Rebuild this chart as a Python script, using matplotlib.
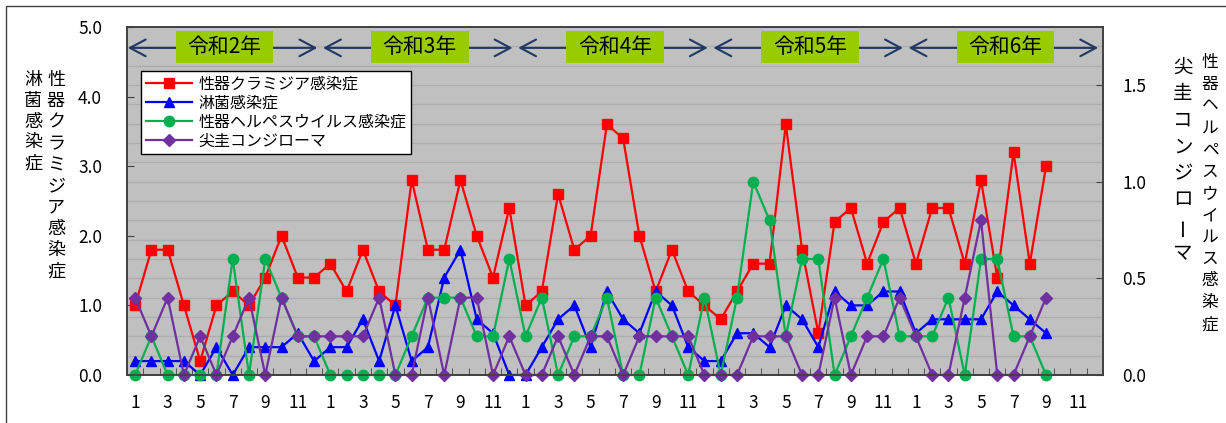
import numpy as np
import matplotlib
matplotlib.use('Agg')
import matplotlib.pyplot as plt
from matplotlib.patches import Rectangle

plt.rcParams['font.family'] = ['Noto Sans CJK JP', 'DejaVu Sans']

# monthly data, 令和2年1月 - 令和6年9月
years = ['令和2年', '令和3年', '令和4年', '令和5年', '令和6年']

chlamydia = [1.0, 1.8, 1.8, 1.0, 0.2, 1.0, 1.2, 1.0, 1.4, 2.0, 1.4, 1.4,
             1.6, 1.2, 1.8, 1.2, 1.0, 2.8, 1.8, 1.8, 2.8, 2.0, 1.4, 2.4,
             1.0, 1.2, 2.6, 1.8, 2.0, 3.6, 3.4, 2.0, 1.2, 1.8, 1.2, 1.0,
             0.8, 1.2, 1.6, 1.6, 3.6, 1.8, 0.6, 2.2, 2.4, 1.6, 2.2, 2.4,
             1.6, 2.4, 2.4, 1.6, 2.8, 1.4, 3.2, 1.6, 3.0]
gonorrhea = [0.2, 0.2, 0.2, 0.2, 0.0, 0.4, 0.0, 0.4, 0.4, 0.4, 0.6, 0.2,
             0.4, 0.4, 0.8, 0.2, 1.0, 0.2, 0.4, 1.4, 1.8, 0.8, 0.6, 0.0,
             0.0, 0.4, 0.8, 1.0, 0.4, 1.2, 0.8, 0.6, 1.2, 1.0, 0.4, 0.2,
             0.2, 0.6, 0.6, 0.4, 1.0, 0.8, 0.4, 1.2, 1.0, 1.0, 1.2, 1.2,
             0.6, 0.8, 0.8, 0.8, 0.8, 1.2, 1.0, 0.8, 0.6]
# right axis
herpes = [0.0, 0.2, 0.0, 0.0, 0.0, 0.0, 0.6, 0.0, 0.6, 0.4, 0.2, 0.2,
          0.0, 0.0, 0.0, 0.0, 0.0, 0.2, 0.4, 0.4, 0.4, 0.2, 0.2, 0.6,
          0.2, 0.4, 0.0, 0.2, 0.2, 0.4, 0.0, 0.0, 0.4, 0.2, 0.0, 0.4,
          0.0, 0.4, 1.0, 0.8, 0.2, 0.6, 0.6, 0.0, 0.2, 0.4, 0.6, 0.2,
          0.2, 0.2, 0.4, 0.0, 0.6, 0.6, 0.2, 0.2, 0.0]
condyloma = [0.4, 0.2, 0.4, 0.0, 0.2, 0.0, 0.2, 0.4, 0.0, 0.4, 0.2, 0.2,
             0.2, 0.2, 0.2, 0.4, 0.0, 0.0, 0.4, 0.0, 0.4, 0.4, 0.0, 0.2,
             0.0, 0.0, 0.2, 0.0, 0.2, 0.2, 0.0, 0.2, 0.2, 0.2, 0.2, 0.0,
             0.0, 0.0, 0.2, 0.2, 0.2, 0.0, 0.0, 0.4, 0.0, 0.2, 0.2, 0.4,
             0.2, 0.0, 0.0, 0.4, 0.8, 0.0, 0.0, 0.2, 0.4]

W, H = 1226, 423
n_months = 12 * len(years)
x = np.arange(1, len(chlamydia) + 1)

fig = plt.figure(figsize=(W / 100, H / 100), dpi=100)
ax = fig.add_axes([127 / W, 1 - 375 / H, (1103 - 127) / W, (375 - 27) / H])
ax.set_facecolor('#C0C0C0')
ax2 = ax.twinx()

# grid every 0.1 on the right axis, drawn on the bottom axes
ax.set_ylim(0, 5)
ax.set_yticks(np.arange(1, 18) * 5 / 18, minor=True)
ax.grid(which='minor', axis='y', color='#ADADAD', lw=0.9)
ax.tick_params(axis='y', which='minor', length=0)

l1, = ax.plot(x, chlamydia, color='#FF0000', marker='s', ms=7.5, lw=1.6,
              clip_on=False, label='性器クラミジア感染症')
l2, = ax.plot(x, gonorrhea, color='#0000FF', marker='^', ms=7.5, lw=1.6,
              clip_on=False, label='淋菌感染症')
l3, = ax2.plot(x, herpes, color='#00B050', marker='o', ms=7.5, lw=1.6,
               clip_on=False, label='性器ヘルペスウイルス感染症')
l4, = ax2.plot(x, condyloma, color='#7030A0', marker='D', ms=6.5, lw=1.6,
               clip_on=False, label='尖圭コンジローマ')

ax.set_xlim(0.5, n_months + 0.5)
ax.set_xticks(np.arange(1, n_months + 1, 2))
ax.set_xticklabels([str((i - 1) % 12 + 1) for i in range(1, n_months + 1, 2)])
ax.set_xticks(np.arange(0.5, n_months + 1, 1), minor=True)
ax.tick_params(axis='x', which='major', length=0, pad=14, labelsize=12.5)
ax.tick_params(axis='x', which='minor', direction='in', length=5, color='#404040')

ax.set_yticks(np.arange(0, 5.1, 1))
ax.set_yticklabels([f'{v:.1f}' for v in np.arange(0, 5.1, 1)])
ax.tick_params(axis='y', which='major', direction='in', length=5, pad=18,
               labelsize=12.5, color='#404040')

ax2.set_ylim(0, 1.8)
ax2.set_yticks([0, 0.5, 1.0, 1.5])
ax2.set_yticklabels(['0.0', '0.5', '1.0', '1.5'])
ax2.tick_params(axis='y', direction='in', length=5, pad=14, labelsize=12.5,
                color='#404040')

for a in (ax, ax2):
    for sp in a.spines.values():
        sp.set_color('#404040')
        sp.set_linewidth(1.2)

# year arrows with green labels
trans = ax2.get_xaxis_transform()
for k, name in enumerate(years):
    x0 = 12 * k + 0.5
    ax2.annotate('', xy=(x0 + 11.7, 0.94), xytext=(x0 + 0.05, 0.94),
                 xycoords=trans, textcoords=trans,
                 arrowprops=dict(arrowstyle='<->,head_length=0.75,head_width=0.4',
                                 color='#1F3864', lw=1.5, shrinkA=0, shrinkB=0,
                                 mutation_scale=15))
    ax2.add_patch(Rectangle((x0 + 3.0, 0.8966), 6.0, 0.0919, transform=trans,
                            facecolor='#99CC00', edgecolor='none', zorder=3))
    ax2.text(x0 + 6, 0.942, name, transform=trans, ha='center', va='center',
             fontsize=15, zorder=4)

leg = ax2.legend(handles=[l1, l2, l3, l4], loc='upper left',
                 bbox_to_anchor=(141 / W, 1 - 71 / H), bbox_transform=fig.transFigure,
                 fontsize=11.5, fancybox=False, edgecolor='black', framealpha=1,
                 borderaxespad=0, handlelength=2.9, handletextpad=0.4,
                 labelspacing=0.12, borderpad=0.3)
leg.get_frame().set_linewidth(1.0)


def vtext(xp, y0, step, s, size):
    for i, ch in enumerate(s):
        rot = 90 if ch == 'ー' else 0
        fig.text(xp / W, 1 - (y0 + i * step) / H, ch, ha='center', va='center',
                 fontsize=size, rotation=rot)


vtext(33, 80, 20.8, '淋菌感染症', 13)
vtext(56, 80, 21.3, '性器クラミジア感染症', 13)
vtext(1183, 67, 26.6, '尖圭コンジローマ', 14)
vtext(1210, 63, 21.8, '性器ヘルペスウイルス感染症', 12)

# outer frame
fig.add_artist(Rectangle((6 / W, -0.05), 1.2, 1.05 - 6 / H, transform=fig.transFigure,
                         fill=False, edgecolor='#404040', lw=1.0))

fig.savefig('out.png', dpi=100)
